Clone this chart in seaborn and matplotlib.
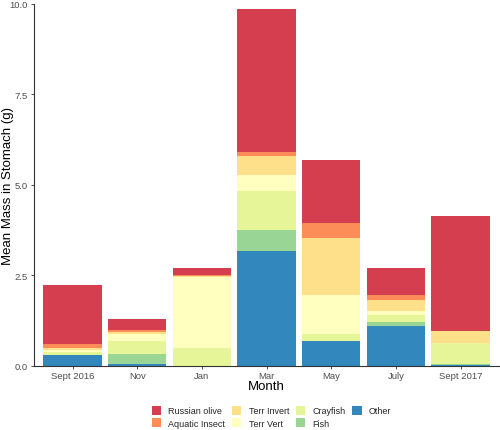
import matplotlib
matplotlib.use("Agg")
import matplotlib.pyplot as plt
import seaborn as sns
import numpy as np
import pandas as pd
from matplotlib.patches import Patch

months = ["Sept 2016", "Nov", "Jan", "Mar", "May", "July", "Sept 2017"]
# stacked from bottom to top
other = [0.30, 0.05, 0.00, 3.16, 0.69, 1.11, 0.02]
fish = [0.00, 0.27, 0.00, 0.60, 0.00, 0.09, 0.04]
crayfish = [0.07, 0.37, 0.49, 1.07, 0.19, 0.20, 0.57]
terr_vert = [0.07, 0.19, 1.96, 0.44, 1.07, 0.12, 0.00]
terr_invert = [0.06, 0.06, 0.02, 0.54, 1.58, 0.30, 0.32]
aquatic_insect = [0.10, 0.06, 0.05, 0.11, 0.41, 0.14, 0.00]
russian_olive = [1.62, 0.29, 0.18, 3.94, 1.76, 0.74, 3.19]

series_names = ["Other", "Fish", "Crayfish", "Terr Vert", "Terr Invert",
                "Aquatic Insect", "Russian olive"]
series_vals = [other, fish, crayfish, terr_vert, terr_invert,
               aquatic_insect, russian_olive]
colors = {"Russian olive": "#d53e4f", "Aquatic Insect": "#fc8d59",
          "Terr Invert": "#fee08b", "Terr Vert": "#ffffbf",
          "Crayfish": "#e6f598", "Fish": "#99d594", "Other": "#3288bd"}

sns.set_theme(style="white")
plt.rcParams["font.family"] = ["Liberation Sans", "DejaVu Sans"]

fig = plt.figure(figsize=(5.0, 4.31), dpi=100)
ax = fig.add_axes([0.0674, 0.1492, 0.9312, 0.8392])

bottom = np.zeros(len(months))
for name, vals in zip(series_names, series_vals):
    df = pd.DataFrame({"Month": months, "val": vals})
    sns.barplot(data=df, x="Month", y="val", order=months, color=colors[name],
                bottom=bottom, width=0.9, ax=ax, saturation=1, linewidth=0,
                errorbar=None)
    bottom = bottom + np.array(vals)

ax.set_xlim(-0.6, 6.6)
ax.set_ylim(0, 10)
ax.set_yticks([0, 2.5, 5.0, 7.5, 10.0])
ax.set_yticklabels(["0.0", "2.5", "5.0", "7.5", "10.0"])
for s in ["top", "right"]:
    ax.spines[s].set_visible(False)
for s in ["left", "bottom"]:
    ax.spines[s].set_color("#333333")
    ax.spines[s].set_linewidth(0.8)
ax.tick_params(axis="both", which="both", length=2.5, width=0.6, color="#333333",
               labelsize=6.8, labelcolor="#4d4d4d", bottom=True, left=True, pad=1.5)
ax.set_xlabel("Month", fontsize=9.5, color="black")
ax.set_ylabel("Mean Mass in Stomach (g)", fontsize=9.5, color="black")
ax.yaxis.set_label_coords(-0.042, 0.5)
ax.xaxis.set_label_coords(0.5, -0.04)

legend_order = ["Russian olive", "Aquatic Insect", "Terr Invert", "Terr Vert",
                "Crayfish", "Fish", "Other"]
handles = [Patch(facecolor=colors[n], edgecolor="none", label=n) for n in legend_order]
fig.legend(handles=handles, loc="center", bbox_to_anchor=(0.543, 0.031), ncol=4,
           frameon=False, fontsize=6.5, handlelength=1.05, handleheight=1.15,
           columnspacing=0.75, handletextpad=0.8, labelspacing=0.3,
           borderpad=0)

fig.savefig("out.png", dpi=100)
